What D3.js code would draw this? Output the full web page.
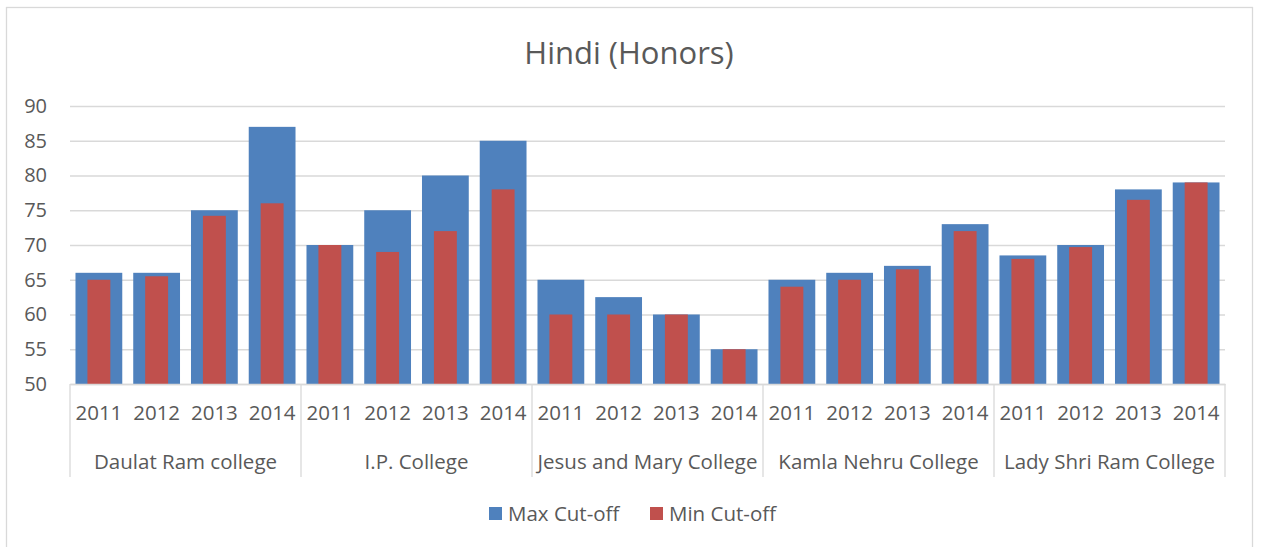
<!DOCTYPE html>
<html>
<head>
<meta charset="utf-8">
<script src="https://cdn.jsdelivr.net/npm/d3@7"></script>
<style>
  body { margin: 0; background: #fff; }
  text { font-family: "Open Sans", sans-serif; fill: #595959; }
</style>
</head>
<body>
<div id="chart"></div>
<script>
const colleges = ["Daulat Ram college", "I.P. College", "Jesus and Mary College", "Kamla Nehru College", "Lady Shri Ram College"];
const years = ["2011", "2012", "2013", "2014"];
const seriesNames = ["Max Cut-off", "Min Cut-off"];
const seriesColors = ["#4f81bd", "#c0504d"];
// values in college order, 4 years each
const maxCutoff = [66, 66, 75, 87, 70, 75, 80, 85, 65, 62.5, 60, 55, 65, 66, 67, 73, 68.5, 70, 78, 79];
const minCutoff = [65, 65.5, 74.2, 76, 70, 69, 72, 78, 60, 60, 60, 55, 64, 65, 66.5, 72, 68, 69.7, 76.5, 79];
const yTicks = [50, 55, 60, 65, 70, 75, 80, 85, 90];

const W = 1262, H = 547;
const margin = { top: 106, right: 37, bottom: 163, left: 70 };
const width = W - margin.left - margin.right,
  height = H - margin.top - margin.bottom;

// build rows from arrays
const rows = [];
colleges.forEach((c, i) => {
  years.forEach((y, j) => {
    const k = i * years.length + j;
    rows.push({ key: c + "|" + y, college: c, year: y, max: maxCutoff[k], min: minCutoff[k] });
  });
});

const svg = d3.select("#chart").append("svg")
  .attr("width", W)
  .attr("height", H);

// chart border
svg.append("rect")
  .attr("x", 6.5).attr("y", 7.5)
  .attr("width", 1246).attr("height", 560)
  .attr("fill", "none")
  .attr("stroke", "#d9d9d9")
  .attr("stroke-width", 1.3);

svg.append("text")
  .attr("x", 629).attr("y", 52)
  .attr("text-anchor", "middle")
  .attr("dominant-baseline", "central")
  .style("font-size", "31px")
  .text("Hindi (Honors)");

const g = svg.append("g")
  .attr("transform", `translate(${margin.left},${margin.top})`);

const x = d3.scaleBand()
  .domain(rows.map(d => d.key))
  .range([0, width])
  .paddingInner(0.19)
  .paddingOuter(0.095);

const xGroup = d3.scaleBand()
  .domain(colleges)
  .range([0, width]);

const y = d3.scaleLinear()
  .domain([50, 90])
  .range([height, 0]);

// y axis + gridlines
const yAxis = g.append("g")
  .attr("class", "y axis")
  .call(d3.axisLeft(y).tickValues(yTicks).tickSize(-width).tickPadding(23));
yAxis.select(".domain").remove();
yAxis.selectAll("line").attr("stroke", "#d9d9d9").attr("stroke-width", 1.3);
yAxis.selectAll("text").style("font-size", "20px").attr("fill", "#595959");

// max bars
g.selectAll(".bar-max")
  .data(rows)
  .enter().append("rect")
  .attr("class", "bar-max")
  .attr("x", d => x(d.key))
  .attr("y", d => y(d.max))
  .attr("width", x.bandwidth())
  .attr("height", d => y(50) - y(d.max))
  .attr("fill", seriesColors[0]);

// min bars, narrower and centred on the max bars
const innerW = x.bandwidth() * 0.49;
g.selectAll(".bar-min")
  .data(rows)
  .enter().append("rect")
  .attr("class", "bar-min")
  .attr("x", d => x(d.key) + (x.bandwidth() - innerW) / 2)
  .attr("y", d => y(d.min))
  .attr("width", innerW)
  .attr("height", d => y(50) - y(d.min))
  .attr("fill", seriesColors[1]);

// x axis: years
const xAxis = g.append("g")
  .attr("class", "x axis")
  .attr("transform", `translate(0,${height})`)
  .call(d3.axisBottom(x).tickSize(0).tickPadding(21).tickFormat(d => d.split("|")[1]));
xAxis.select(".domain").attr("stroke", "#d9d9d9").attr("stroke-width", 1.3);
xAxis.selectAll("text").style("font-size", "20.5px").attr("fill", "#595959");

// x axis: colleges
const gAxis = g.append("g")
  .attr("class", "x axis group")
  .attr("transform", `translate(0,${height})`)
  .call(d3.axisBottom(xGroup).tickSize(0).tickPadding(70));
gAxis.select(".domain").remove();
gAxis.selectAll("text").style("font-size", "20.5px").attr("fill", "#595959");

// group separators
const seps = colleges.map(c => xGroup(c)).concat([width]);
g.selectAll(".sep")
  .data(seps)
  .enter().append("line")
  .attr("class", "sep")
  .attr("x1", d => d).attr("x2", d => d)
  .attr("y1", height).attr("y2", height + 93)
  .attr("stroke", "#d9d9d9")
  .attr("stroke-width", 1.3);

// legend
const legend = svg.append("g").attr("transform", "translate(489,513)");
const items = legend.selectAll("g")
  .data(seriesNames)
  .enter().append("g")
  .attr("transform", (d, i) => `translate(${i * 161},0)`);
items.append("rect")
  .attr("x", 0).attr("y", -6)
  .attr("width", 13).attr("height", 13)
  .attr("fill", (d, i) => seriesColors[i]);
items.append("text")
  .attr("x", 19).attr("y", 0)
  .attr("dominant-baseline", "central")
  .style("font-size", "20.5px")
  .text(d => d);
</script>
</body>
</html>
